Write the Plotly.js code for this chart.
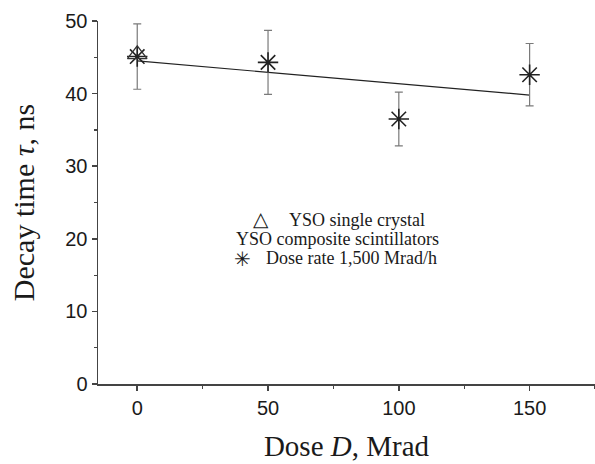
<!DOCTYPE html>
<html>
<head>
<meta charset="utf-8">
<script src="https://cdn.plot.ly/plotly-3.0.1.min.js"></script>
<style>
  html, body { margin: 0; padding: 0; background: #fff; }
  #chart { width: 595px; height: 464px; }
</style>
</head>
<body>
<div id="chart"></div>
<script>
// Decay time of YSO composite scintillators versus absorbed dose
const doseComposite = [0, 50, 100, 150];          // Mrad
const tauComposite = [45.1, 44.3, 36.5, 42.6];    // ns
const tauError = [4.5, 4.4, 3.7, 4.3];            // ns

const doseCrystal = [0];
const tauCrystal = [45.4];

// Linear fit through the composite points
const fitDose = [0, 150];
const fitTau = [44.5, 39.8];

const xTicks = [0, 50, 100, 150];
const yTicks = [0, 10, 20, 30, 40, 50];

const serif = '"Liberation Serif", "Times New Roman", serif';
const sans = '"Liberation Sans", Arial, sans-serif';
const symbolFont = '"DejaVu Sans", sans-serif';
const ink = '#1a1a1a';

const traces = [
  {
    x: fitDose, y: fitTau, mode: 'lines', type: 'scatter',
    line: { color: '#222', width: 1.2 }, hoverinfo: 'skip', showlegend: false
  },
  {
    x: doseComposite, y: tauComposite, mode: 'markers', type: 'scatter',
    marker: { symbol: 'asterisk-open', size: 17, color: '#222', line: { color: '#222', width: 1.6 } },
    error_y: { type: 'data', array: tauError, visible: true, color: '#7a7a7a', thickness: 1.2, width: 4 },
    showlegend: false
  },
  {
    x: doseCrystal, y: tauCrystal, mode: 'markers', type: 'scatter',
    marker: { symbol: 'triangle-up-open', size: 17, color: '#333', line: { color: '#333', width: 1.3 } },
    showlegend: false
  }
];

// key entries placed inside the plot area (paper coordinates)
const keyFont = { family: serif, size: 18, color: ink };
const keySymbolFont = { family: symbolFont, size: 20, color: ink };

const layout = {
  width: 595, height: 464,
  margin: { l: 98, r: 0, t: 21, b: 80 },
  paper_bgcolor: '#fff', plot_bgcolor: '#fff',
  showlegend: false,
  xaxis: {
    range: [-15, 175],
    tickvals: xTicks, ticktext: xTicks.map(String),
    showgrid: false, zeroline: false,
    showline: true, linecolor: '#444', linewidth: 1.5,
    ticks: 'outside', ticklen: 5, tickwidth: 1.5, tickcolor: '#444',
    minor: { dtick: 25, tick0: 0, ticks: 'outside', ticklen: 3, tickwidth: 1.2, tickcolor: '#444', showgrid: false },
    tickfont: { family: sans, size: 20, color: ink },
    title: { text: 'Dose <i>D</i>, Mrad', font: { family: serif, size: 29, color: ink }, standoff: 18 }
  },
  yaxis: {
    range: [0, 50],
    tickvals: yTicks, ticktext: yTicks.map(String),
    showgrid: false, zeroline: false,
    showline: true, linecolor: '#444', linewidth: 1.5,
    ticks: 'outside', ticklen: 5, tickwidth: 1.5, tickcolor: '#444',
    minor: { dtick: 5, tick0: 0, ticks: 'outside', ticklen: 3, tickwidth: 1.2, tickcolor: '#444', showgrid: false },
    tickfont: { family: sans, size: 20, color: ink },
    title: { text: 'Decay time <i>τ</i>, ns', font: { family: serif, size: 30, color: ink }, standoff: 22 }
  },
  annotations: [
    { xref: 'paper', yref: 'paper', x: 0.328, y: 0.455, xanchor: 'center', yanchor: 'middle',
      text: '△', showarrow: false, font: keySymbolFont },
    { xref: 'paper', yref: 'paper', x: 0.380, y: 0.452, xanchor: 'left', yanchor: 'middle',
      text: 'YSO single crystal', showarrow: false, font: keyFont },
    { xref: 'paper', yref: 'paper', x: 0.482, y: 0.399, xanchor: 'center', yanchor: 'middle',
      text: 'YSO composite scintillators', showarrow: false, font: keyFont },
    { xref: 'paper', yref: 'paper', x: 0.290, y: 0.344, xanchor: 'center', yanchor: 'middle',
      text: '✳', showarrow: false, font: keySymbolFont },
    { xref: 'paper', yref: 'paper', x: 0.333, y: 0.347, xanchor: 'left', yanchor: 'middle',
      text: 'Dose rate 1,500 Mrad/h', showarrow: false, font: keyFont }
  ]
};

Plotly.newPlot('chart', traces, layout, { displayModeBar: false, staticPlot: true });
</script>
</body>
</html>
